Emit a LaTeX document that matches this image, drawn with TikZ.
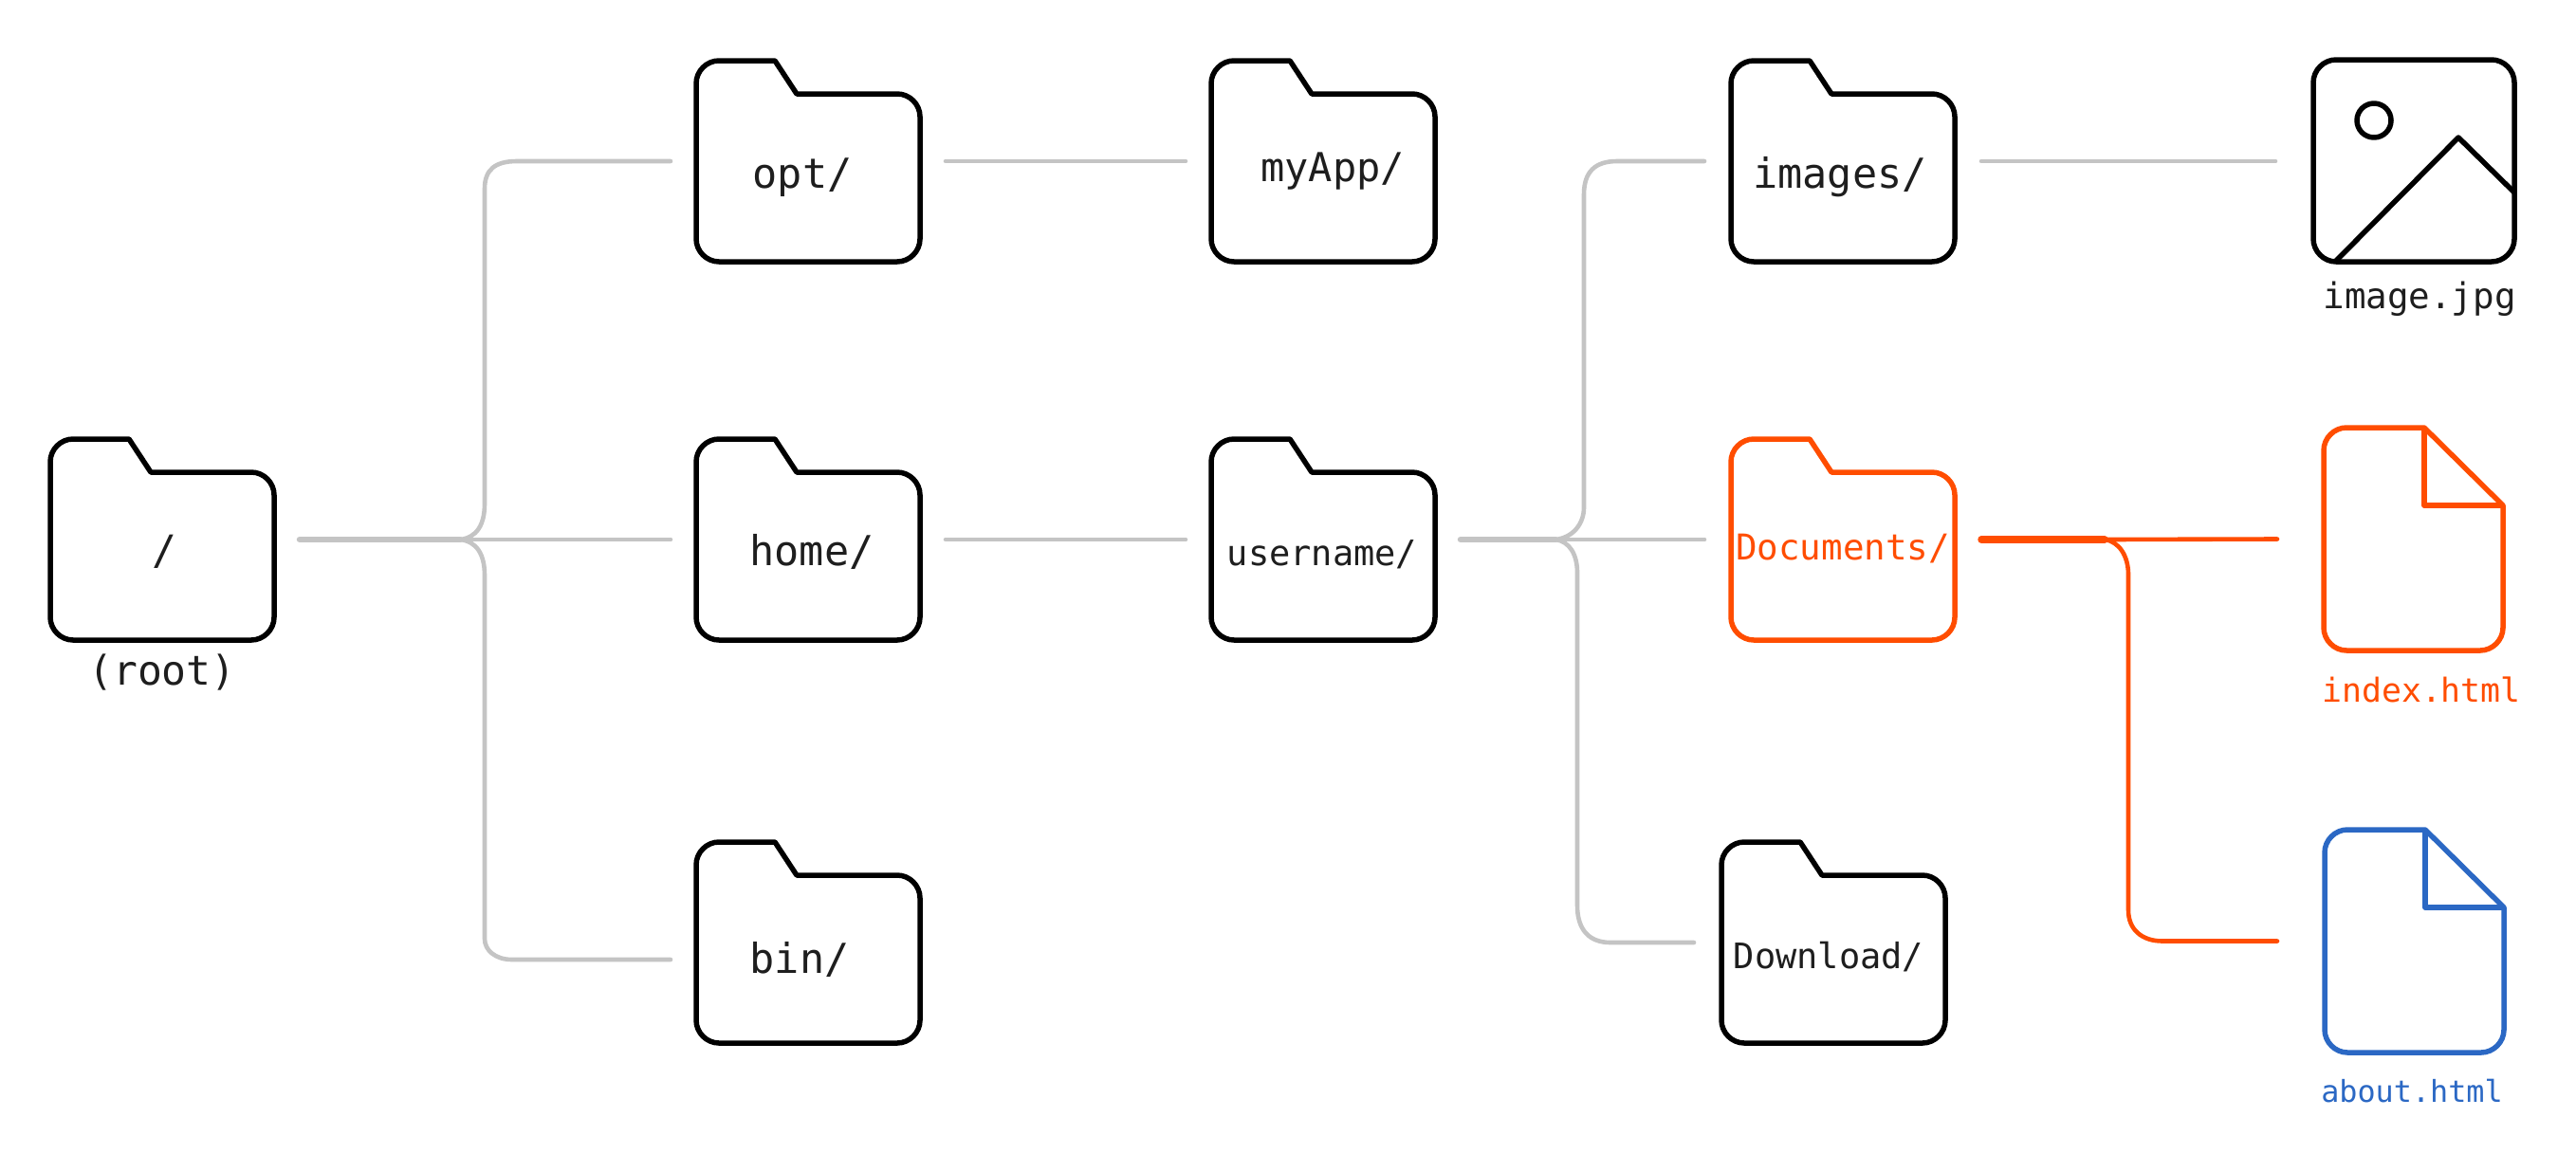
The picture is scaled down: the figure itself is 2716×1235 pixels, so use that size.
\documentclass[tikz,border=0pt]{standalone}
\usepackage{fontspec}
\setmainfont{DejaVu Sans Mono}
\definecolor{inkc}{HTML}{000000}
\definecolor{txtc}{HTML}{1E1E1E}
\definecolor{wirec}{HTML}{C4C4C4}
\definecolor{orangec}{HTML}{FF4D00}
\definecolor{bluec}{HTML}{2B68C4}
\newcommand\fsz[1]{\fontsize{#1pt}{#1pt}\selectfont}
% name, left, top, colour, gap
\newcommand\folderbox[5]{%
  \begin{scope}[shift={(#2,#3)}]
    \node[slot,minimum width=236pt,minimum height=212pt,outer xsep=#5pt] (#1) at (118,106) {};
    \draw[outline,#4] (0,24) .. controls (0,11) and (11,0) .. (24,0) -- (83,0) -- (106,35) -- (212,35)
      .. controls (225,35) and (236,46) .. (236,59) -- (236,188)
      .. controls (236,201) and (225,212) .. (212,212) -- (24,212)
      .. controls (11,212) and (0,201) .. (0,188) -- cycle;
  \end{scope}}
% name, left, top, colour, gap
\newcommand\filebox[5]{%
  \begin{scope}[shift={(#2,#3)}]
    \node[slot,minimum width=189pt,minimum height=235pt,outer xsep=#5pt] (#1) at (94.5,117.5) {};
    \draw[outline,#4] (0,24) .. controls (0,11) and (11,0) .. (24,0) -- (106,0) -- (189,82) -- (189,211)
      .. controls (189,224) and (178,235) .. (165,235) -- (24,235)
      .. controls (11,235) and (0,224) .. (0,211) -- cycle;
    \draw[outline,#4] (106,0) -- (106,82) -- (189,82);
  \end{scope}}
\tikzset{
  slot/.style={inner sep=0pt,outer ysep=0pt},
  outline/.style={line width=5.5pt,line join=round,draw=inkc},
  wire/.style={line width=4.6pt,line cap=round,line join=round,draw=wirec},
  stem/.style={line width=6.5pt,line cap=round,draw=wirec},
  lab/.style={inner sep=0pt,anchor=base,text=txtc},
}
\begin{document}
\begin{tikzpicture}[x=1pt,y=-1pt]
\useasboundingbox (0,0) rectangle (2716,1235);
\fill[white] (0,0) rectangle (2716,1235);

\folderbox{root}{53}{463}{}{27}
\folderbox{opt}{734}{64}{}{27}
\folderbox{home}{734}{463}{}{27}
\folderbox{bin}{734}{888}{}{27}
\folderbox{myapp}{1277}{64}{}{27}
\folderbox{username}{1277}{463}{}{27}
\folderbox{images}{1825}{64}{}{28}
\folderbox{documents}{1825}{463}{draw=orangec}{28}
\folderbox{download}{1815}{888}{}{29}
\filebox{index}{2450}{451}{draw=orangec}{49}
\filebox{about}{2451}{875}{draw=bluec}{50}

% image icon
\node[slot,minimum width=212pt,minimum height=213pt,outer xsep=40pt] (img) at (2545,170) {};
\draw[outline] (2439,87) .. controls (2439,74) and (2450,63) .. (2463,63) -- (2627,63)
  .. controls (2640,63) and (2651,74) .. (2651,87) -- (2651,252)
  .. controls (2651,265) and (2640,276) .. (2627,276) -- (2463,276)
  .. controls (2450,276) and (2439,265) .. (2439,252) -- cycle;
\draw[outline] (2503,127) circle[radius=18pt];
\draw[outline] (2463,275) -- (2592,145) -- (2651,203);

% labels
\node[lab,font=\fsz{43}] (troot) at (173,595) {/};
\node[lab,font=\fsz{43}] (troottag) at (171,722) {(root)};
\node[lab,font=\fsz{43.5}] (topt) at (846,198) {opt/};
\node[lab,font=\fsz{43.5}] (thome) at (856,596) {home/};
\node[lab,font=\fsz{43.5}] (tbin) at (843,1026) {bin/};
\node[lab,font=\fsz{42}] (tmyapp) at (1405,191) {myApp/};
\node[lab,font=\fsz{37}] (tuser) at (1394,596) {username/};
\node[lab,font=\fsz{43.5}] (timages) at (1940,198) {images/};
\node[lab,font=\fsz{37.5},text=orangec] (tdocs) at (1943,590) {Documents/};
\node[lab,font=\fsz{37}] (tdown) at (1928,1021) {Download/};
\node[lab,font=\fsz{37.5}] (timg) at (2551,325) {image.jpg};
\node[lab,font=\fsz{34.8},text=orangec] (tindex) at (2553,740) {index.html};
\node[lab,font=\fsz{31.8},text=bluec] (tabout) at (2543,1162) {about.html};

% junctions
\coordinate (rj) at (485,569);
\coordinate (uj) at (1640,569);
\coordinate (dj) at (2219,569);

% grey connectors
\draw[stem] (root.east) -- (rj);
\draw[wire] (rj) -- (home.west);
\draw[wire] (rj) .. controls (503,567) and (511,553) .. (511,531) -- (511,199)
  .. controls (511,179) and (522,170) .. (545,170) -- (opt.west);
\draw[wire] (rj) .. controls (503,571) and (511,585) .. (511,607) -- (511,990)
  .. controls (511,1002) and (522,1012) .. (540,1012) -- ([yshift=-18pt]bin.west);
\draw[wire] (opt.east) -- (myapp.west);
\draw[wire] (home.east) -- (username.west);
\draw[stem] (username.east) -- (uj);
\draw[wire] (uj) -- (documents.west);
\draw[wire] (uj) .. controls (1658,567) and (1670,553) .. (1670,535) -- (1670,205)
  .. controls (1670,181) and (1682,170) .. (1705,170) -- (images.west);
\draw[wire] (uj) .. controls (1655,571) and (1663,585) .. (1663,604) -- (1663,955)
  .. controls (1663,980) and (1675,994) .. (1698,994) -- (download.west);
\draw[wire] (images.east) -- (img.west);

% orange connectors
\draw[stem,draw=orangec,line width=7.5pt] (documents.east) -- (dj);
\draw[wire,draw=orangec] (dj) -- (index.west);
\draw[wire,draw=orangec] (dj) .. controls (2234,571) and (2244,586) .. (2244,606) -- (2244,960)
  .. controls (2244,980) and (2258,992.5) .. (2280,992.5) -- (about.west);
\end{tikzpicture}
\end{document}
